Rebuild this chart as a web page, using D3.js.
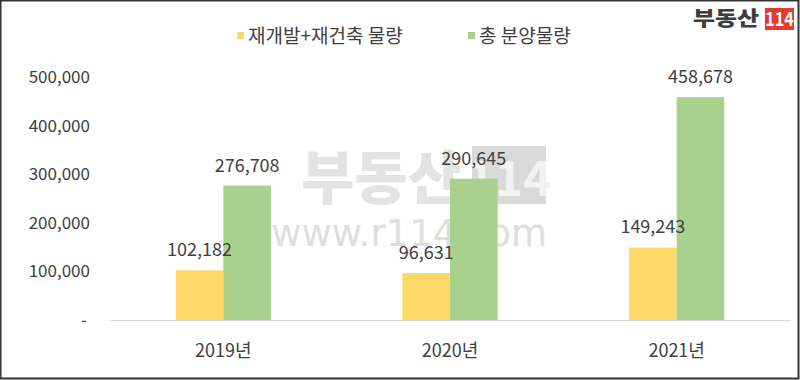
<!DOCTYPE html>
<html>
<head>
<meta charset="utf-8">
<script src="https://cdn.jsdelivr.net/npm/d3@7"></script>
<style>
  body { margin: 0; background: #fff; }
  svg { display: block; font-family: "Noto Sans CJK KR", "Noto Sans", sans-serif; }
</style>
</head>
<body>
<div id="chart"></div>
<script>
// data
var years = ["2019년", "2020년", "2021년"];
var seriesNames = ["재개발+재건축 물량", "총 분양물량"];
var redevelop = [102182, 96631, 149243];
var totalSupply = [276708, 290645, 458678];
var yTicks = [0, 100000, 200000, 300000, 400000, 500000];

var colors = ["#FFD966", "#A9D18E"];
var width = 800, height = 380;
var margin = { top: 77, left: 110 };
var plotW = 790 - margin.left;
var plotH = 320 - margin.top;

var svg = d3.select("#chart").append("svg")
    .attr("width", width)
    .attr("height", height);

// outer frame
svg.append("rect")
    .attr("x", 0.5).attr("y", 0.5)
    .attr("width", width - 2).attr("height", height - 2)
    .attr("fill", "#fff")
    .attr("stroke", "#333")
    .attr("stroke-width", 2);

// watermark (behind the bars)
var wm = svg.append("g");
wm.append("text")
    .attr("x", 381).attr("y", 199)
    .attr("text-anchor", "middle")
    .attr("font-size", 58).attr("font-weight", 900)
    .attr("fill", "#e3e3e3")
    .text("부동산");
wm.append("rect")
    .attr("x", 472).attr("y", 146)
    .attr("width", 74).attr("height", 58)
    .attr("fill", "#d9d9d9");
wm.append("text")
    .attr("x", 509).attr("y", 196)
    .attr("text-anchor", "middle")
    .attr("font-size", 48).attr("font-weight", 700)
    .attr("fill", "#f2f2f2")
    .text("114");
wm.append("text")
    .attr("x", 547).attr("y", 246)
    .attr("text-anchor", "end")
    .attr("font-family", "'DejaVu Sans', sans-serif")
    .attr("font-size", 37)
    .attr("fill", "#dedede")
    .text("www.r114.com");

var g = svg.append("g")
    .attr("transform", `translate(${margin.left}, ${margin.top})`);

var x0 = d3.scaleBand().domain(years).range([0, plotW])
    .paddingInner(0.58).paddingOuter(0.29);
var x1 = d3.scaleBand().domain(d3.range(2)).range([0, x0.bandwidth()]);
var y = d3.scaleLinear().domain([0, 500000]).range([plotH, 0]);

// y axis labels
var fmt = d3.format(",");
var yAxis = g.append("g")
    .call(d3.axisLeft(y).tickValues(yTicks).tickSize(0).tickPadding(20)
        .tickFormat(d => d === 0 ? "-" : fmt(d)));
yAxis.select(".domain").remove();
yAxis.selectAll("text")
    .attr("font-size", 17)
    .attr("fill", "#404040")
    .attr("font-family", "'Noto Sans CJK KR', sans-serif");
yAxis.selectAll(".tick").filter(d => d === 0).select("text").attr("dx", -3);

// bars
var rows = years.map((yr, i) => ({ year: yr, values: [redevelop[i], totalSupply[i]] }));
var groups = g.selectAll(".grp").data(rows).enter().append("g")
    .attr("class", "grp")
    .attr("transform", d => `translate(${x0(d.year)},0)`);

groups.selectAll("rect").data(d => d.values).enter().append("rect")
    .attr("x", (d, i) => x1(i))
    .attr("y", d => y(d))
    .attr("width", x1.bandwidth())
    .attr("height", d => plotH - y(d))
    .attr("fill", (d, i) => colors[i]);

groups.selectAll(".lbl").data(d => d.values).enter().append("text")
    .attr("class", "lbl")
    .attr("x", (d, i) => x1(i) + x1.bandwidth() / 2)
    .attr("y", d => y(d) - 14)
    .attr("text-anchor", "middle")
    .attr("font-size", 18)
    .attr("fill", "#404040")
    .text(d => fmt(d));

// baseline + x axis
var xAxis = g.append("g")
    .attr("transform", `translate(0, ${plotH})`)
    .call(d3.axisBottom(x0).tickSize(0).tickPadding(24));
xAxis.select(".domain").attr("stroke", "#d9d9d9");
xAxis.selectAll("text")
    .attr("font-size", 18)
    .attr("fill", "#404040")
    .attr("font-family", "'Noto Sans CJK KR', sans-serif");

// legend
var legend = svg.append("g").attr("transform", "translate(237, 36)");
var legX = [0, 231];
seriesNames.forEach((name, i) => {
    legend.append("rect")
        .attr("x", legX[i]).attr("y", -4)
        .attr("width", 7).attr("height", 7)
        .attr("fill", colors[i]);
    legend.append("text")
        .attr("x", legX[i] + 11).attr("y", 0)
        .attr("dy", "0.35em")
        .attr("font-size", 19)
        .attr("fill", "#404040")
        .text(name);
});

// logo
var logo = svg.append("g");
logo.append("text")
    .attr("transform", "translate(726, 26) scale(1.2, 1)")
    .attr("text-anchor", "middle")
    .attr("font-size", 20).attr("font-weight", 900)
    .attr("fill", "#3d3d3d")
    .text("부동산");
logo.append("rect")
    .attr("x", 765).attr("y", 8)
    .attr("width", 29).attr("height", 22)
    .attr("fill", "#E53A2B");
logo.append("text")
    .attr("transform", "translate(779.5, 26) scale(0.85, 1)")
    .attr("text-anchor", "middle")
    .attr("font-size", 19).attr("font-weight", 700)
    .attr("fill", "#fff")
    .text("114");
</script>
</body>
</html>
